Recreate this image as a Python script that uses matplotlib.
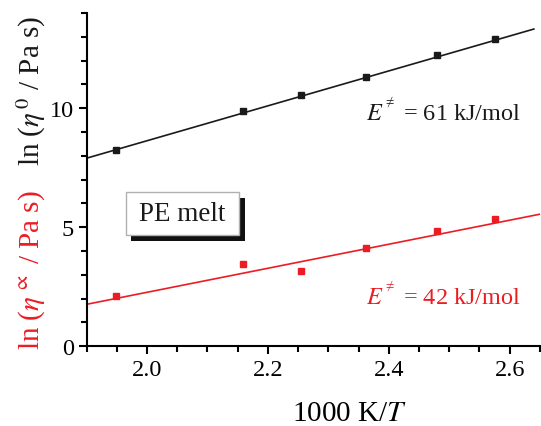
import matplotlib
matplotlib.use("Agg")
import matplotlib.pyplot as plt
import numpy as np
from matplotlib.patches import Rectangle

plt.rcParams['font.family'] = ['Liberation Serif', 'DejaVu Serif']
plt.rcParams['mathtext.fontset'] = 'stix'

# Reciprocal temperature, 1000 K / T
inv_T = [1.948, 2.158, 2.255, 2.363, 2.480, 2.576]
# Zero-shear viscosity, ln(eta0 / Pa s)
ln_eta0 = [8.25, 9.89, 10.55, 11.30, 12.24, 12.91]
# Infinite-shear viscosity, ln(eta_inf / Pa s)
ln_eta_inf = [2.11, 3.45, 3.16, 4.12, 4.85, 5.35]

# Arrhenius activation energies (kJ/mol) and fit intercepts
R = 8.314e-3
Ea_0 = 61
Ea_inf = 42
b_0 = -6.04
b_inf = -7.84

x_ticks = [2.0, 2.2, 2.4, 2.6]
y_ticks = [0, 5, 10]

BLACK = '#1a1a1a'
RED = '#ec1c24'

fig = plt.figure(figsize=(5.41, 4.27), dpi=100)
ax = fig.add_axes([0.160, 0.187, 0.838, 0.780])

# Arrhenius fit lines: slope = Ea / R
xf0 = np.array([1.9, 2.64])
ax.plot(xf0, b_0 + Ea_0 / R / 1000 * xf0, color=BLACK, lw=1.2)
xfi = np.array([1.9, 2.65])
ax.plot(xfi, b_inf + Ea_inf / R / 1000 * xfi, color=RED, lw=1.2)

ax.plot(inv_T, ln_eta0, 's', color=BLACK, ms=4.3, ls='none')
ax.plot(inv_T, ln_eta_inf, 's', color=RED, ms=4.3, ls='none')

ax.set_xlim(1.9, 2.65)
ax.set_ylim(0, 14)
ax.set_xticks(x_ticks)
ax.set_xticklabels([f'{v:.1f}' for v in x_ticks])
ax.set_xticks(np.arange(1.9, 2.651, 0.05), minor=True)
ax.set_yticks(y_ticks)
ax.set_yticks(np.arange(0, 14.01, 1), minor=True)

for s in ['top', 'right']:
    ax.spines[s].set_visible(False)
for s in ['left', 'bottom']:
    ax.spines[s].set_linewidth(1.5)
ax.tick_params(which='major', direction='out', length=6, width=1.5,
               labelsize=17.5, pad=3)
ax.tick_params(which='minor', direction='out', length=4, width=1.5)

ax.set_xlabel(r'1000 K/$T$', fontsize=21)
ax.xaxis.set_label_coords(0.58, -0.20)
ax.xaxis.label.set_va('center')

fig.text(0.058, 0.786, r'ln ($\eta^{\,0}$ / Pa s)', rotation=90,
         ha='center', va='center', fontsize=21, color=BLACK)
fig.text(0.058, 0.368, r'ln ($\eta^{\,\propto}$ / Pa s)', rotation=90,
         ha='center', va='center', fontsize=21, color=RED)

ax.text(2.363, 9.9, r'$E^{{}^{\neq}}$ = 61 kJ/mol', fontsize=17.5,
        color=BLACK, ha='left', va='center')
ax.text(2.363, 2.16, r'$E^{{}^{\neq}}$ = 42 kJ/mol', fontsize=17.5,
        color=RED, ha='left', va='center')

# "PE melt" box with drop shadow
W, H = 541, 427
def fr(x0, y0, x1, y1):
    return (x0 / W, 1 - y1 / H), (x1 - x0) / W, (y1 - y0) / H
xy, w, h = fr(131, 199, 245, 242)
fig.patches.append(Rectangle(xy, w, h, transform=fig.transFigure,
                             facecolor='#111111', edgecolor='none'))
xy, w, h = fr(125.5, 192.7, 239.3, 236)
fig.patches.append(Rectangle(xy, w, h, transform=fig.transFigure,
                             facecolor='white', edgecolor='#b0b0b0', lw=1.0))
fig.text((125.5 + 239.3) / 2 / W, 1 - 214.5 / H, 'PE melt', fontsize=19.5,
         ha='center', va='center', color=BLACK)

fig.savefig('out.png', dpi=100)
